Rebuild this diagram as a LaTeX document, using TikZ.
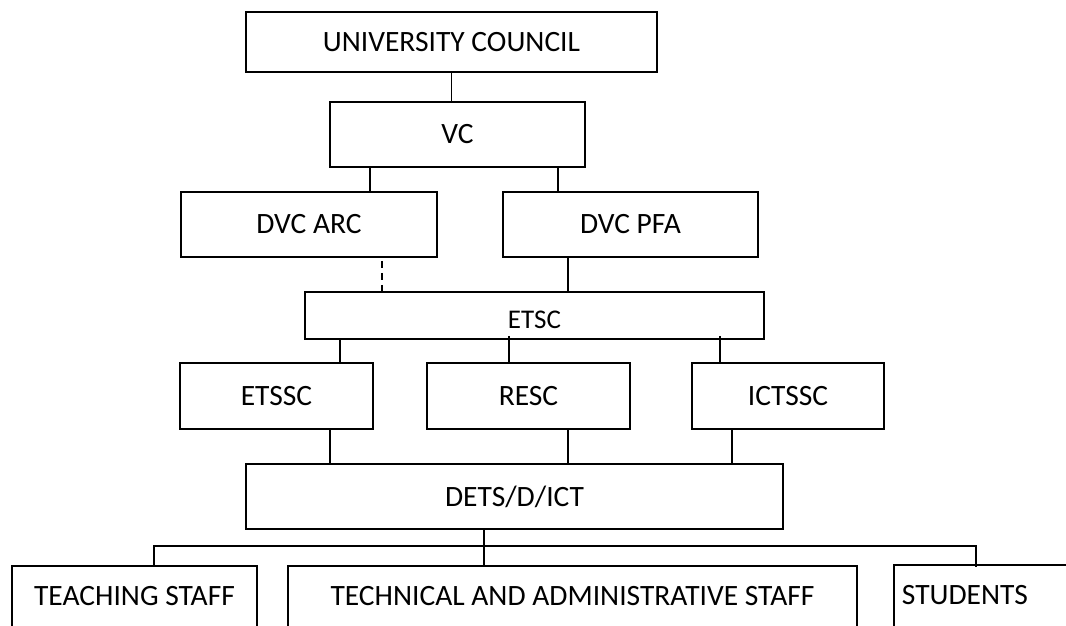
\documentclass[tikz,border=0pt]{standalone}
\usepackage{fontspec}
\setmainfont{Carlito}
\usetikzlibrary{positioning,calc}

\tikzset{
  unit/.style={draw,line width=1.8pt,inner sep=0pt,minimum height=65pt,font=\fontsize{29.5}{34}\selectfont},
  staff/.style={unit,minimum height=64pt,text depth=5pt},
  link/.style={line width=1.5pt},
}

\begin{document}
\begin{tikzpicture}[x=1pt,y=-1pt]
  \useasboundingbox (0,0) rectangle (1066,626);
  \clip (0,0) rectangle (1066,626);
  \fill[white] (0,0) rectangle (1066,626);
  % top of the chart
  \node[unit,minimum width=411pt,minimum height=60pt] (uc) at (451.5,42) {UNIVERSITY COUNCIL};
  \node[unit,minimum width=255pt] (vc) at (457.5,134.5) {VC};
  \node[unit,minimum width=256pt] (arc) at (309,224.5) {DVC ARC};
  \node[unit,minimum width=255pt] (pfa) at (630.5,224.5) {DVC PFA};
  \node[unit,minimum width=459pt,minimum height=47pt,text height=26.5pt,text depth=0pt,font=\fontsize{27}{31}\selectfont] (etsc) at (534.5,315.5) {ETSC};
  % committees
  \node[unit,minimum width=193pt,minimum height=66pt] (etssc) at (276.5,396) {ETSSC};
  \node[unit,minimum width=203pt,minimum height=66pt] (resc) at (528.5,396) {RESC};
  \node[unit,minimum width=192pt,minimum height=66pt] (ictssc) at (788,396) {ICTSSC};
  \node[unit,minimum width=537pt] (dets) at (514.5,496.5) {DETS/D/ICT};
  % staff and students
  \node[staff,minimum width=245pt] (teach) at (134.5,598) {TEACHING STAFF};
  \node[staff,minimum width=569pt] (tech) at (572.5,598) {TECHNICAL AND ADMINISTRATIVE STAFF};
  \node[staff,anchor=north west,minimum height=66pt,text width=200pt,align=left,inner xsep=8pt] (stud) at (893,564) {STUDENTS};

  \draw[link] (uc.south) -- (uc.south |- vc.north);
  \draw[link] ([xshift=41pt]vc.south west) coordinate (v1) -- (v1 |- arc.north);
  \draw[link] ([xshift=-28pt]vc.south east) coordinate (v2) -- (v2 |- pfa.north);
  \draw[link,dash pattern=on 7pt off 5pt,dash phase=-3pt] ([xshift=-56pt]arc.south east) coordinate (a1) -- (a1 |- etsc.north);
  \draw[link] ([xshift=66pt]pfa.south west) coordinate (p1) -- (p1 |- etsc.north);

  \draw[link] ([xshift=36pt]etsc.south west) coordinate (e1) -- (e1 |- etssc.north);
  \draw[link] ([xshift=205pt,yshift=4pt]etsc.south west) coordinate (e2) -- (e2 |- resc.north);
  \draw[link] ([xshift=416pt,yshift=4pt]etsc.south west) coordinate (e3) -- (e3 |- ictssc.north);

  \draw[link] ([xshift=151pt]etssc.south west) coordinate (s1) -- (s1 |- dets.north);
  \draw[link] ([xshift=142pt]resc.south west) coordinate (s2) -- (s2 |- dets.north);
  \draw[link] ([xshift=41pt]ictssc.south west) coordinate (s3) -- (s3 |- dets.north);

  \coordinate (bl) at (154,546);
  \coordinate (br) at (976,546);
  \draw[link] ([xshift=239pt]dets.south west) coordinate (d1) -- (d1 |- tech.north);
  \draw[link] (teach.north -| bl) -- (bl) -- (br) -- ([yshift=-3pt]stud.north -| br);
\end{tikzpicture}
\end{document}
